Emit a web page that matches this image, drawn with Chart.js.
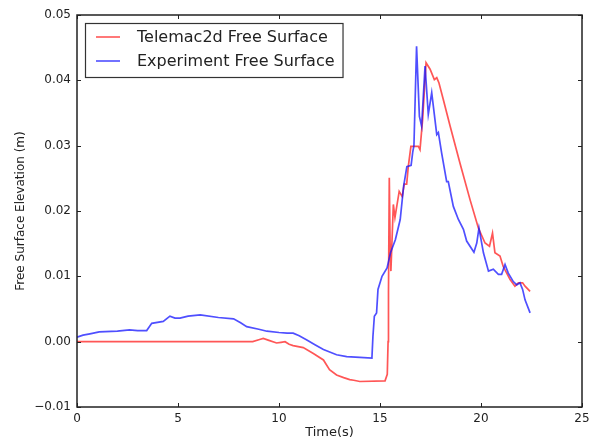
<!DOCTYPE html>
<html>
<head>
<meta charset="utf-8">
<script src="https://cdn.jsdelivr.net/npm/chart.js@4/dist/chart.umd.min.js"></script>
<style>
  html, body { margin: 0; padding: 0; background: #fff; }
  #wrap { width: 598px; height: 441px; }
</style>
</head>
<body>
<div id="wrap"><canvas id="surfaceChart" width="598" height="441"></canvas></div>
<script>
// Telemac2d free surface (time in s, elevation in m)
const telemacTime = [0, 8.7, 9.0, 9.22, 9.5, 9.88, 10.1, 10.3, 10.5, 10.7, 11.2, 11.7, 12.2, 12.5, 12.85,
  13.2, 13.5, 13.7, 14.0, 15.25, 15.36, 15.4, 15.42, 15.46, 15.5, 15.54, 15.66, 15.74, 15.95, 16.1,
  16.2, 16.32, 16.4, 16.53, 16.9, 16.98, 17.11, 17.28, 17.48, 17.69, 17.81, 17.92, 18.13, 18.47,
  18.96, 19.46, 19.87, 20.2, 20.42, 20.57, 20.69, 20.94, 21.1, 21.44, 21.68, 21.85, 22.06, 22.18, 22.43];
const telemacElev = [0, 0, 0.0003, 0.0005, 0.0002, -0.0002, -0.0001, 0.0, -0.0004, -0.0006, -0.0009,
  -0.0018, -0.0028, -0.0043, -0.0051, -0.0055, -0.0058, -0.0059, -0.0061, -0.0060, -0.0050, 0.0,
  0.0075, 0.0251, 0.0150, 0.0108, 0.0210, 0.0190, 0.0230, 0.0222, 0.0241, 0.0241, 0.0268, 0.0299,
  0.0299, 0.0294, 0.0340, 0.0427, 0.0417, 0.0401, 0.0404, 0.0396, 0.0371, 0.0330, 0.0273, 0.0217,
  0.0174, 0.0151, 0.0146, 0.0166, 0.0136, 0.0131, 0.0115, 0.0095, 0.0085, 0.0090, 0.0090, 0.0085, 0.0077];

// Experiment free surface
const expTime = [0, 0.3, 0.64, 1.1, 2.0, 2.6, 3.0, 3.45, 3.7, 4.27, 4.6, 4.85, 5.1, 5.5, 6.1, 7.0,
  7.75, 8.1, 8.4, 9.0, 9.4, 10.0, 10.4, 10.7, 11.0, 11.4, 11.8, 12.2, 12.85, 13.35, 14.0, 14.6,
  14.65, 14.72, 14.83, 14.9, 15.1, 15.35, 15.52, 15.76, 16.0, 16.17, 16.33, 16.54, 16.62, 16.68,
  16.81, 16.95, 17.06, 17.23, 17.39, 17.56, 17.81, 17.89, 18.05, 18.3, 18.38, 18.63, 18.88, 19.13,
  19.29, 19.65, 19.79, 19.9, 20.12, 20.37, 20.61, 20.86, 21.02, 21.19, 21.35, 21.6, 21.77, 21.93,
  22.06, 22.18, 22.43];
const expElev = [0.0007, 0.0010, 0.0012, 0.0015, 0.0016, 0.0018, 0.0017, 0.0017, 0.0028, 0.0031,
  0.0039, 0.0036, 0.0036, 0.0039, 0.0041, 0.0037, 0.0035, 0.0029, 0.0023, 0.0019, 0.0016, 0.0014,
  0.0013, 0.0013, 0.0009, 0.0002, -0.0005, -0.0012, -0.0020, -0.0023, -0.0024, -0.0025, 0.0008,
  0.0039, 0.0044, 0.0080, 0.0100, 0.0113, 0.0136, 0.0156, 0.0187, 0.0238, 0.0268, 0.0270, 0.0290,
  0.0300, 0.0452, 0.0345, 0.0330, 0.0422, 0.0348, 0.0381, 0.0317, 0.0320, 0.0289, 0.0245, 0.0245,
  0.0207, 0.0187, 0.0172, 0.0154, 0.0137, 0.0151, 0.0174, 0.0136, 0.0108, 0.0111, 0.0103, 0.0103,
  0.0118, 0.0105, 0.0092, 0.0087, 0.0090, 0.0080, 0.0064, 0.0044];

const xTicks = [0, 5, 10, 15, 20, 25];
const yTicks = [-0.01, 0.00, 0.01, 0.02, 0.03, 0.04, 0.05];

const FONT = "'DejaVu Sans', sans-serif";
const INK = "#222";

function toPoints(xs, ys) {
  return xs.map((x, i) => ({ x: x, y: ys[i] }));
}

function fmtY(v) {
  if (Math.abs(v) < 1e-9) v = 0;
  return v.toFixed(2).replace("-", "\u2212");
}

// matplotlib-style box: frame plus inward ticks on all four sides
const frameTicks = {
  id: "frameTicks",
  afterDraw(chart) {
    const { ctx, chartArea: a, scales } = chart;
    const len = 4;
    ctx.save();
    ctx.strokeStyle = INK;
    ctx.lineWidth = 1;
    ctx.beginPath();
    xTicks.forEach(t => {
      const px = Math.round(scales.x.getPixelForValue(t)) + 0.5;
      ctx.moveTo(px, a.bottom); ctx.lineTo(px, a.bottom - len);
      ctx.moveTo(px, a.top); ctx.lineTo(px, a.top + len);
    });
    yTicks.forEach(t => {
      const py = Math.round(scales.y.getPixelForValue(t)) + 0.5;
      ctx.moveTo(a.left, py); ctx.lineTo(a.left + len, py);
      ctx.moveTo(a.right, py); ctx.lineTo(a.right - len, py);
    });
    ctx.stroke();
    ctx.lineWidth = 1.5;
    ctx.strokeRect(a.left, a.top, a.right - a.left, a.bottom - a.top);
    ctx.restore();
  }
};

// legend box in the upper-left corner of the plot
const boxLegend = {
  id: "boxLegend",
  afterDraw(chart) {
    const { ctx, chartArea: a } = chart;
    const sets = chart.data.datasets;
    ctx.save();
    ctx.font = "16px " + FONT;
    const textW = Math.max(...sets.map(d => ctx.measureText(d.label).width));
    const x0 = a.left + 8, y0 = a.top + 8;
    const rowH = 24;
    const w = 52 + textW + 8, h = 14 + rowH * (sets.length - 1) + 16;
    ctx.fillStyle = "#fff";
    ctx.fillRect(x0, y0, w, h);
    ctx.strokeStyle = "#333";
    ctx.lineWidth = 1.2;
    ctx.strokeRect(x0 + 0.5, y0 + 0.5, w, h);
    sets.forEach((d, i) => {
      const cy = y0 + 14 + rowH * i;
      ctx.strokeStyle = d.borderColor;
      ctx.lineWidth = 1.6;
      ctx.beginPath();
      ctx.moveTo(x0 + 11, cy); ctx.lineTo(x0 + 35, cy);
      ctx.stroke();
      ctx.fillStyle = INK;
      ctx.textBaseline = "middle";
      ctx.fillText(d.label, x0 + 52, cy + 1);
    });
    ctx.restore();
  }
};

new Chart(document.getElementById("surfaceChart"), {
  type: "line",
  data: {
    datasets: [
      {
        label: "Telemac2d Free Surface",
        data: toPoints(telemacTime, telemacElev),
        borderColor: "rgba(255,30,30,0.75)",
        borderWidth: 1.7,
        pointRadius: 0,
        tension: 0,
        order: 2
      },
      {
        label: "Experiment Free Surface",
        data: toPoints(expTime, expElev),
        borderColor: "rgba(20,20,255,0.75)",
        borderWidth: 1.7,
        pointRadius: 0,
        tension: 0,
        order: 1
      }
    ]
  },
  options: {
    responsive: false,
    animation: false,
    layout: { padding: { top: 15, right: 16, left: 0, bottom: 0 } },
    plugins: {
      legend: { display: false },
      tooltip: { enabled: false }
    },
    scales: {
      x: {
        type: "linear",
        min: 0, max: 25,
        afterBuildTicks: s => { s.ticks = xTicks.map(v => ({ value: v })); },
        afterFit: s => { s.height = 34; },
        grid: { display: false, drawTicks: false },
        border: { display: false },
        ticks: { color: INK, font: { family: FONT, size: 12 }, padding: 5, maxRotation: 0 },
        title: { display: true, text: "Time(s)", color: INK, font: { family: FONT, size: 13 }, padding: { top: 0, bottom: 1 } }
      },
      y: {
        min: -0.01, max: 0.05,
        afterBuildTicks: s => { s.ticks = yTicks.map(v => ({ value: v })); },
        afterFit: s => { s.width = 77; },
        grid: { display: false, drawTicks: false },
        border: { display: false },
        ticks: { color: INK, font: { family: FONT, size: 12 }, padding: 6, callback: v => fmtY(v) },
        title: { display: true, text: "Free Surface Elevation (m)", color: INK, font: { family: FONT, size: 12 }, padding: { top: 14, bottom: 0 } }
      }
    }
  },
  plugins: [frameTicks, boxLegend]
});
</script>
</body>
</html>
